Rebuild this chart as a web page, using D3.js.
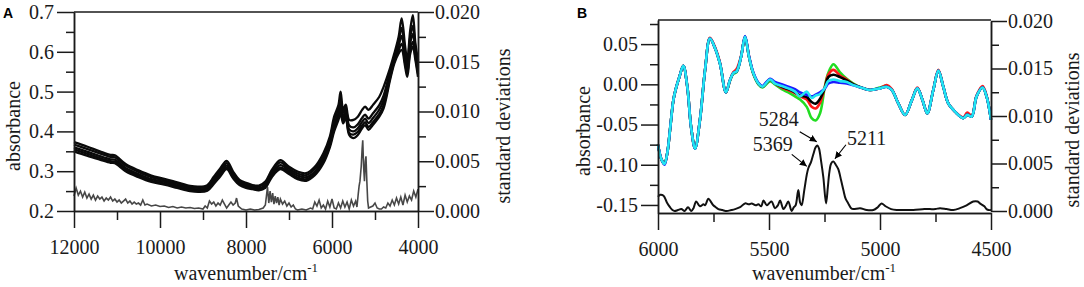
<!DOCTYPE html>
<html><head><meta charset="utf-8">
<script src="https://cdn.jsdelivr.net/npm/d3@7"></script>
<style>
body{margin:0;background:#fff}
svg{display:block}
text{font-family:"Liberation Serif","Times New Roman",serif;fill:#1a1a1a}
text.panel{font-family:"Liberation Sans",Arial,sans-serif;font-weight:bold;fill:#000}
</style></head>
<body><svg id="c" width="1084" height="287"></svg>
<script>
// ---------------- DATA: panel A ----------------
const wnA = [12000,11700,11400,11150,11050,10800,10500,10200,9900,9600,9300,9100,8900,8750,8600,8450,8300,8150,8000,7850,7700,7550,7400,7200,7000,6800,6600,6400,6200,6050,5950,5850,5800,5740,5680,5600,5500,5400,5300,5230,5150,5050,4900,4800,4650,4550,4450,4380,4300,4250,4180,4120,4060,4000];
const absA1 = [.373,.362,.350,.341,.340,.318,.302,.289,.281,.272,.263,.261,.265,.286,.307,.326,.299,.278,.271,.265,.264,.274,.303,.328,.311,.299,.295,.311,.345,.387,.437,.466,.500,.455,.467,.429,.429,.437,.454,.462,.454,.466,.487,.512,.559,.596,.638,.684,.614,.579,.655,.692,.621,.579];
const absA2 = [.367,.356,.345,.336,.335,.314,.298,.285,.277,.268,.260,.258,.261,.281,.302,.320,.295,.275,.268,.262,.261,.270,.298,.322,.306,.294,.290,.306,.339,.380,.428,.457,.480,.446,.459,.415,.410,.418,.434,.442,.432,.445,.466,.490,.550,.589,.627,.660,.600,.568,.638,.665,.610,.568];
const absA3 = [.360,.349,.338,.330,.329,.308,.293,.280,.273,.264,.256,.254,.257,.276,.296,.314,.290,.271,.264,.259,.257,.265,.293,.315,.301,.289,.285,.299,.331,.372,.417,.446,.465,.436,.450,.405,.400,.408,.424,.432,.421,.433,.455,.478,.542,.582,.615,.640,.587,.556,.622,.645,.598,.556];
const absA4 = [.355,.344,.333,.325,.324,.304,.289,.276,.269,.261,.253,.251,.254,.272,.291,.309,.285,.268,.261,.257,.254,.261,.289,.309,.297,.284,.280,.294,.325,.365,.407,.436,.455,.427,.442,.396,.392,.399,.415,.423,.411,.423,.444,.466,.535,.576,.604,.620,.572,.545,.607,.625,.587,.545];
const absA5 = [.350,.339,.329,.321,.320,.300,.285,.273,.266,.258,.250,.248,.251,.268,.287,.305,.282,.265,.258,.255,.252,.258,.285,.305,.293,.280,.276,.290,.320,.360,.400,.429,.445,.420,.435,.391,.383,.391,.408,.416,.404,.416,.437,.458,.529,.571,.596,.605,.563,.537,.596,.613,.579,.537];
// standard deviation, panel A: [wavenumber, sd]
const stdA = [[12000,.0015],[11950,.0023],[11900,.0016],[11850,.0020],[11800,.0014],[11750,.0019],[11700,.0013],[11650,.0017],[11600,.0012],[11550,.0016],[11500,.0011],[11450,.0015],[11400,.0012],[11350,.0014],[11300,.0010],[11250,.0013],[11200,.0011],[11150,.0014],[11100,.0010],[11050,.0012],[11000,.0009],[10950,.0011],[10900,.0008],[10850,.0010],[10800,.0012],[10750,.0008],[10700,.0010],[10650,.0007],[10600,.0009],[10550,.0007],[10500,.0008],[10450,.0006],[10400,.0011],[10350,.0006],[10300,.0007],[10200,.0005],[10100,.0006],[10000,.00045],[9900,.0005],[9800,.00035],[9700,.00045],[9600,.0003],[9500,.0004],[9400,.0003],[9300,.00035],[9200,.00025],[9100,.0003],[9000,.0002],[8950,.0005],[8900,.0003],[8850,.0010],[8800,.0007],[8750,.0009],[8700,.0005],[8650,.0008],[8600,.0006],[8550,.0011],[8500,.0007],[8450,.0003],[8400,.0006],[8350,.0009],[8300,.0006],[8250,.0008],[8220,.0013],[8180,.0005],[8100,.0002],[8000,.0001],[7900,.0002],[7800,.0001],[7700,.00015],[7600,.0003],[7550,.0006],[7500,.0024],[7470,.0008],[7440,.0020],[7410,.0009],[7380,.0018],[7350,.0007],[7320,.0015],[7290,.0008],[7260,.0014],[7230,.0006],[7200,.0012],[7150,.0007],[7100,.0010],[7050,.0005],[7000,.0008],[6950,.0004],[6900,.0006],[6850,.0002],[6800,.0001],[6700,.0002],[6600,.0001],[6500,.0003],[6450,.0002],[6400,.0009],[6350,.0005],[6300,.0011],[6250,.0003],[6200,.0006],[6150,.0002],[6100,.0010],[6050,.0004],[6000,.0012],[5950,.0003],[5900,.0002],[5850,.0008],[5800,.0003],[5750,.0010],[5700,.0004],[5650,.0009],[5600,.0002],[5550,.0011],[5500,.0005],[5450,.0010],[5420,.0004],[5390,.0017],[5370,.0025],[5350,.0030],[5320,.0045],[5300,.0062],[5285,.0071],[5265,.0045],[5245,.0030],[5225,.0050],[5210,.0055],[5190,.0030],[5170,.0010],[5150,.0003],[5100,.0004],[5050,.0005],[5000,.0008],[4950,.0003],[4900,.0002],[4850,.0002],[4800,.0004],[4750,.0003],[4700,.0008],[4650,.0005],[4600,.0011],[4550,.0006],[4500,.0013],[4450,.0007],[4400,.0014],[4350,.0006],[4300,.0016],[4250,.0009],[4200,.0015],[4150,.0011],[4100,.0020],[4050,.0014],[4000,.0022]];

// ---------------- DATA: panel B ----------------
const wnB = [6000,5985,5971,5958,5946,5931,5920,5905,5886,5868,5851,5833,5811,5788,5766,5743,5721,5694,5676,5661,5646,5626,5608,5590,5571,5548,5530,5495,5473,5443,5413,5383,5360,5330,5308,5290,5270,5248,5233,5210,5180,5150,5120,5075,5045,5000,4970,4947,4917,4887,4857,4832,4808,4787,4760,4737,4715,4692,4662,4625,4607,4587,4565,4538,4520,4500];
const bCyan  = [-0.075,-0.093,-0.099,-0.085,-0.057,-0.020,-0.006,0.008,0.023,-0.003,-0.053,-0.080,-0.044,0.018,0.057,0.045,0.026,-0.010,0.005,0.014,0.016,0.034,0.059,0.034,0.014,0.001,-0.003,0.006,0.001,-0.002,-0.005,-0.009,-0.015,-0.009,-0.017,-0.014,-0.012,-0.004,0.004,0.006,0.004,0.003,-0.001,-0.005,-0.007,-0.005,-0.003,-0.007,-0.024,-0.038,-0.020,-0.005,-0.020,-0.036,-0.007,0.017,-0.003,-0.024,-0.034,-0.042,-0.038,-0.040,-0.015,-0.004,-0.015,-0.044];
const bBlack = [-0.075,-0.093,-0.099,-0.085,-0.057,-0.020,-0.006,0.008,0.023,-0.003,-0.053,-0.080,-0.044,0.018,0.057,0.045,0.026,-0.010,0.005,0.014,0.016,0.034,0.059,0.034,0.014,0.001,-0.003,0.006,0.001,-0.003,-0.006,-0.010,-0.014,-0.016,-0.022,-0.024,-0.018,-0.004,0.009,0.012,0.009,0.005,0.000,-0.005,-0.007,-0.005,-0.003,-0.007,-0.024,-0.038,-0.020,-0.005,-0.020,-0.036,-0.007,0.017,-0.003,-0.024,-0.034,-0.042,-0.038,-0.040,-0.015,-0.004,-0.015,-0.044];
const bRed   = [-0.075,-0.093,-0.099,-0.085,-0.057,-0.020,-0.006,0.008,0.023,-0.003,-0.053,-0.080,-0.044,0.018,0.058,0.046,0.027,-0.010,0.005,0.015,0.019,0.035,0.059,0.035,0.014,0.001,-0.003,0.006,0.001,-0.004,-0.007,-0.011,-0.015,-0.019,-0.028,-0.030,-0.023,-0.003,0.012,0.018,0.011,0.006,0.000,-0.005,-0.007,-0.005,-0.001,-0.006,-0.024,-0.038,-0.020,-0.004,-0.020,-0.036,-0.007,0.018,-0.003,-0.024,-0.034,-0.041,-0.035,-0.039,-0.014,-0.002,-0.014,-0.044];
const bGreen = [-0.075,-0.093,-0.098,-0.085,-0.057,-0.020,-0.006,0.008,0.023,-0.003,-0.053,-0.079,-0.044,0.018,0.057,0.045,0.026,-0.010,0.004,0.013,0.015,0.034,0.059,0.034,0.013,0.000,-0.004,0.004,0.000,-0.006,-0.010,-0.015,-0.019,-0.028,-0.042,-0.045,-0.036,-0.002,0.014,0.025,0.015,0.007,0.001,-0.005,-0.007,-0.004,-0.002,-0.007,-0.024,-0.038,-0.020,-0.005,-0.020,-0.036,-0.007,0.017,-0.003,-0.024,-0.034,-0.042,-0.038,-0.040,-0.015,-0.004,-0.015,-0.044];
const bBlue  = [-0.075,-0.093,-0.100,-0.085,-0.057,-0.020,-0.006,0.008,0.023,-0.003,-0.053,-0.080,-0.044,0.018,0.057,0.045,0.026,-0.010,0.005,0.014,0.016,0.034,0.060,0.035,0.015,0.002,-0.002,0.007,0.003,0.000,-0.003,-0.006,-0.010,-0.013,-0.015,-0.013,-0.010,-0.005,0.001,0.003,0.002,0.001,-0.001,-0.005,-0.007,-0.005,-0.003,-0.007,-0.024,-0.038,-0.020,-0.005,-0.020,-0.036,-0.007,0.017,-0.003,-0.024,-0.034,-0.042,-0.038,-0.040,-0.015,-0.004,-0.015,-0.044];
const seriesBNames  = ["green","red","black","blue","cyan"];
const seriesBColors = ["#22dd22","#ff1a1a","#000000","#1a1aff","#22e5f0"];
const stdB = [[6000,.0015],[5990,.0017],[5975,.0016],[5960,.0009],[5946,.0004],[5935,.0001],[5925,0],[5910,.0001],[5895,.0002],[5880,0],[5865,.0004],[5850,0],[5840,.0003],[5828,.0010],[5811,.0005],[5795,.0007],[5788,.0006],[5773,.0013],[5760,.0009],[5751,.0006],[5740,.0004],[5728,.0002],[5710,.0001],[5691,0],[5670,.0001],[5653,.0002],[5630,.0004],[5608,.0008],[5590,.0007],[5578,.0008],[5560,.0006],[5548,.0007],[5535,.0005],[5525,.0011],[5510,.0006],[5500,.0008],[5488,.0010],[5473,.0003],[5460,.0006],[5450,.0011],[5435,.0002],[5425,.0005],[5413,.0010],[5398,0],[5388,.0004],[5380,.0006],[5368,.0022],[5360,.0009],[5353,.0006],[5341,.0022],[5330,.0038],[5323,.0045],[5310,.0052],[5300,.0060],[5290,.0067],[5282,.0069],[5275,.0066],[5265,.0052],[5255,.0035],[5243,.0008],[5235,.0025],[5228,.0041],[5220,.0050],[5210,.0052],[5200,.0049],[5188,.0044],[5175,.0032],[5165,.0022],[5155,.0013],[5143,.0008],[5130,.0003],[5120,.0002],[5090,.0003],[5060,.0001],[5030,.0001],[5010,.0004],[4993,.0008],[4975,.0005],[4950,.0002],[4925,.0001],[4900,.0001],[4850,.0001],[4800,.0002],[4775,.0002],[4750,.0002],[4730,.0003],[4700,.0002],[4670,.0001],[4640,.0003],[4610,.0006],[4580,.0010],[4560,.0010],[4550,.0008],[4530,.0005],[4520,.0002],[4510,.0001],[4500,.0001]];
const annoLabels = ["5284","5369","5211"];
const annoWn     = [5285,5330,5203];
const annoSd     = [0.0073,0.0047,0.0055];

// ticks
const ticksAxMajor = [12000,10000,8000,6000,4000], ticksAxMinor = [11000,9000,7000,5000];
const ticksAyMajor = [0.2,0.3,0.4,0.5,0.6,0.7], ticksAyMinor = [0.25,0.35,0.45,0.55,0.65];
const ticksSdMajor = [0,0.005,0.010,0.015,0.020], ticksSdMinor = [0.0025,0.0075,0.0125,0.0175];
const ticksBxMajor = [6000,5500,5000,4500], ticksBxMinor = [5750,5250,4750];
const ticksByMajor = [-0.15,-0.10,-0.05,0.00,0.05], ticksByMinor = [-0.125,-0.075,-0.025,0.025,0.075];

// ---------------- DRAW ----------------
const svg = d3.select("#c");
const AX = "#1a1a1a", FS = 20;
const fmt = f => d => d3.format(f)(d).replace("\u2212","-");

svg.append("defs").append("marker").attr("id","arr").attr("viewBox","0 0 10 10")
  .attr("refX",10).attr("refY",5).attr("markerWidth",7).attr("markerHeight",7)
  .attr("orient","auto").attr("markerUnits","userSpaceOnUse")
  .append("path").attr("d","M0,0L10,5L0,10z").attr("fill","#000");

function styleAxis(g){
  g.selectAll("path,line").attr("stroke",AX).attr("stroke-width",1.5);
  g.selectAll("text").attr("font-size",FS).attr("fill",AX)
   .attr("font-family",'"Liberation Serif","Times New Roman",serif');
}
function drawAxes(p){
  const {x,y,y2,xMaj,xMin,yMaj,yMin,y2Maj,y2Min,yFmt,xPad,y0} = p;
  const g = svg.append("g");
  g.append("g").attr("transform",`translate(0,${y0})`)
    .call(d3.axisBottom(x).tickValues(xMaj).tickSize(17).tickSizeOuter(0).tickPadding(xPad).tickFormat(d3.format("d"))).call(styleAxis);
  g.append("g").attr("transform",`translate(0,${y0})`)
    .call(d3.axisBottom(x).tickValues(xMin).tickSize(9).tickSizeOuter(0).tickFormat("")).call(styleAxis);
  g.append("g").attr("transform",`translate(${x.range()[0]},0)`)
    .call(d3.axisLeft(y).tickValues(yMaj).tickSize(17).tickSizeOuter(0).tickPadding(3).tickFormat(yFmt)).call(styleAxis);
  g.append("g").attr("transform",`translate(${x.range()[0]},0)`)
    .call(d3.axisLeft(y).tickValues(yMin).tickSize(8).tickSizeOuter(0).tickFormat("")).call(styleAxis);
  g.append("g").attr("transform",`translate(${x.range()[1]},0)`)
    .call(d3.axisRight(y2).tickValues(y2Maj).tickSize(16).tickSizeOuter(0).tickPadding(1).tickFormat(fmt(".3f"))).call(styleAxis);
  g.append("g").attr("transform",`translate(${x.range()[1]},0)`)
    .call(d3.axisRight(y2).tickValues(y2Min).tickSize(8).tickSizeOuter(0).tickFormat("")).call(styleAxis);
  const top = Math.min(y.range()[1],y2.range()[1]);
  g.append("line").attr("x1",x.range()[0]).attr("x2",x.range()[1]).attr("y1",top).attr("y2",top)
    .attr("stroke",AX).attr("stroke-width",1.5);
}
function titles(p){
  const {cx,xBase,lx,ly,rx,ry,letter,letterX} = p;
  const t = svg.append("text").attr("x",cx).attr("y",xBase).attr("text-anchor","middle").attr("font-size",FS);
  t.append("tspan").text("wavenumber/cm");
  t.append("tspan").attr("dy",-8).attr("font-size",13).text("-1");
  svg.append("text").attr("transform",`translate(${lx},${ly}) rotate(-90)`).attr("text-anchor","middle").attr("font-size",FS).text("absorbance");
  svg.append("text").attr("transform",`translate(${rx},${ry}) rotate(-90)`).attr("text-anchor","middle").attr("font-size",FS).text("standard deviations");
  svg.append("text").attr("class","panel").attr("x",letterX).attr("y",18).attr("font-size",14).text(letter);
}

// ---- Panel A ----
const xA = d3.scaleLinear().domain([12000,4000]).range([74,418]);
const yA = d3.scaleLinear().domain([0.2,0.7]).range([211,12]);
const yA2 = d3.scaleLinear().domain([0,0.02]).range([211,12]);

const lineA = d3.line().x(d=>xA(d[0])).y(d=>yA(d[1])).curve(d3.curveCatmullRom.alpha(0.5));
[absA1,absA2,absA3,absA4,absA5].forEach(s=>{
  const pts = wnA.map((w,i)=>[w,s[i]]).filter(d=>d[1]!=null);
  svg.append("path").datum(pts).attr("d",lineA).attr("fill","none").attr("stroke","#0a0a0a").attr("stroke-width",2.3);
});
svg.append("path").datum(stdA).attr("d",d3.line().x(d=>xA(d[0])).y(d=>yA2(d[1])))
  .attr("fill","none").attr("stroke","#474747").attr("stroke-width",1.6);

drawAxes({x:xA,y:yA,y2:yA2,xMaj:ticksAxMajor,xMin:ticksAxMinor,yMaj:ticksAyMajor,yMin:ticksAyMinor,
  y2Maj:ticksSdMajor,y2Min:ticksSdMinor,yFmt:fmt(".1f"),xPad:12,y0:211});
titles({cx:246,xBase:280,lx:20,ly:126,rx:510,ry:126,letter:"A",letterX:3});

// ---- Panel B ----
const xB = d3.scaleLinear().domain([6000,4500]).range([658,991]);
const yB = d3.scaleLinear().domain([-0.16,0.08]).range([213,20]);
const yB2 = d3.scaleLinear().domain([0,0.02]).range([211,21]);

const lineB = d3.line().x(d=>xB(d[0])).y(d=>yB(d[1])).curve(d3.curveCatmullRom.alpha(0.5));
[bGreen,bRed,bBlack,bBlue,bCyan].forEach((s,k)=>{
  const pts = wnB.map((w,i)=>[w,s[i]]).filter(d=>d[1]!=null);
  svg.append("path").datum(pts).attr("d",lineB).attr("fill","none")
    .attr("stroke",seriesBColors[k]).attr("stroke-width",2.6).attr("stroke-linejoin","round");
});
svg.append("path").datum(stdB).attr("d",d3.line().x(d=>xB(d[0])).y(d=>yB2(d[1])).curve(d3.curveCatmullRom.alpha(0.5)))
  .attr("fill","none").attr("stroke","#111").attr("stroke-width",2);

drawAxes({x:xB,y:yB,y2:yB2,xMaj:ticksBxMajor,xMin:ticksBxMinor,yMaj:ticksByMajor,yMin:ticksByMinor,
  y2Maj:ticksSdMajor,y2Min:ticksSdMinor,yFmt:fmt(".2f"),xPad:12,y0:213});
titles({cx:824,xBase:280,lx:590,ly:131,rx:1079,ry:130,letter:"B",letterX:577});

// annotations (offsets in px relative to arrow tip)
const annoLayout = [{tx:-17,ty:-10,lx:-18,ly:-15.5,anchor:"end"},
                    {tx:-15,ty:-12,lx:-14,ly:-15,anchor:"end"},
                    {tx:11,ty:-14,lx:12,ly:-14,anchor:"start"}];
annoLabels.forEach((lab,i)=>{
  const px = xB(annoWn[i]), py = yB2(annoSd[i]), L = annoLayout[i];
  svg.append("line").attr("x1",px+L.tx).attr("y1",py+L.ty).attr("x2",px).attr("y2",py)
    .attr("stroke","#000").attr("stroke-width",1.2).attr("marker-end","url(#arr)");
  svg.append("text").attr("x",px+L.lx).attr("y",py+L.ly).attr("text-anchor",L.anchor)
    .attr("font-size",FS).text(lab);
});
</script></body></html>
